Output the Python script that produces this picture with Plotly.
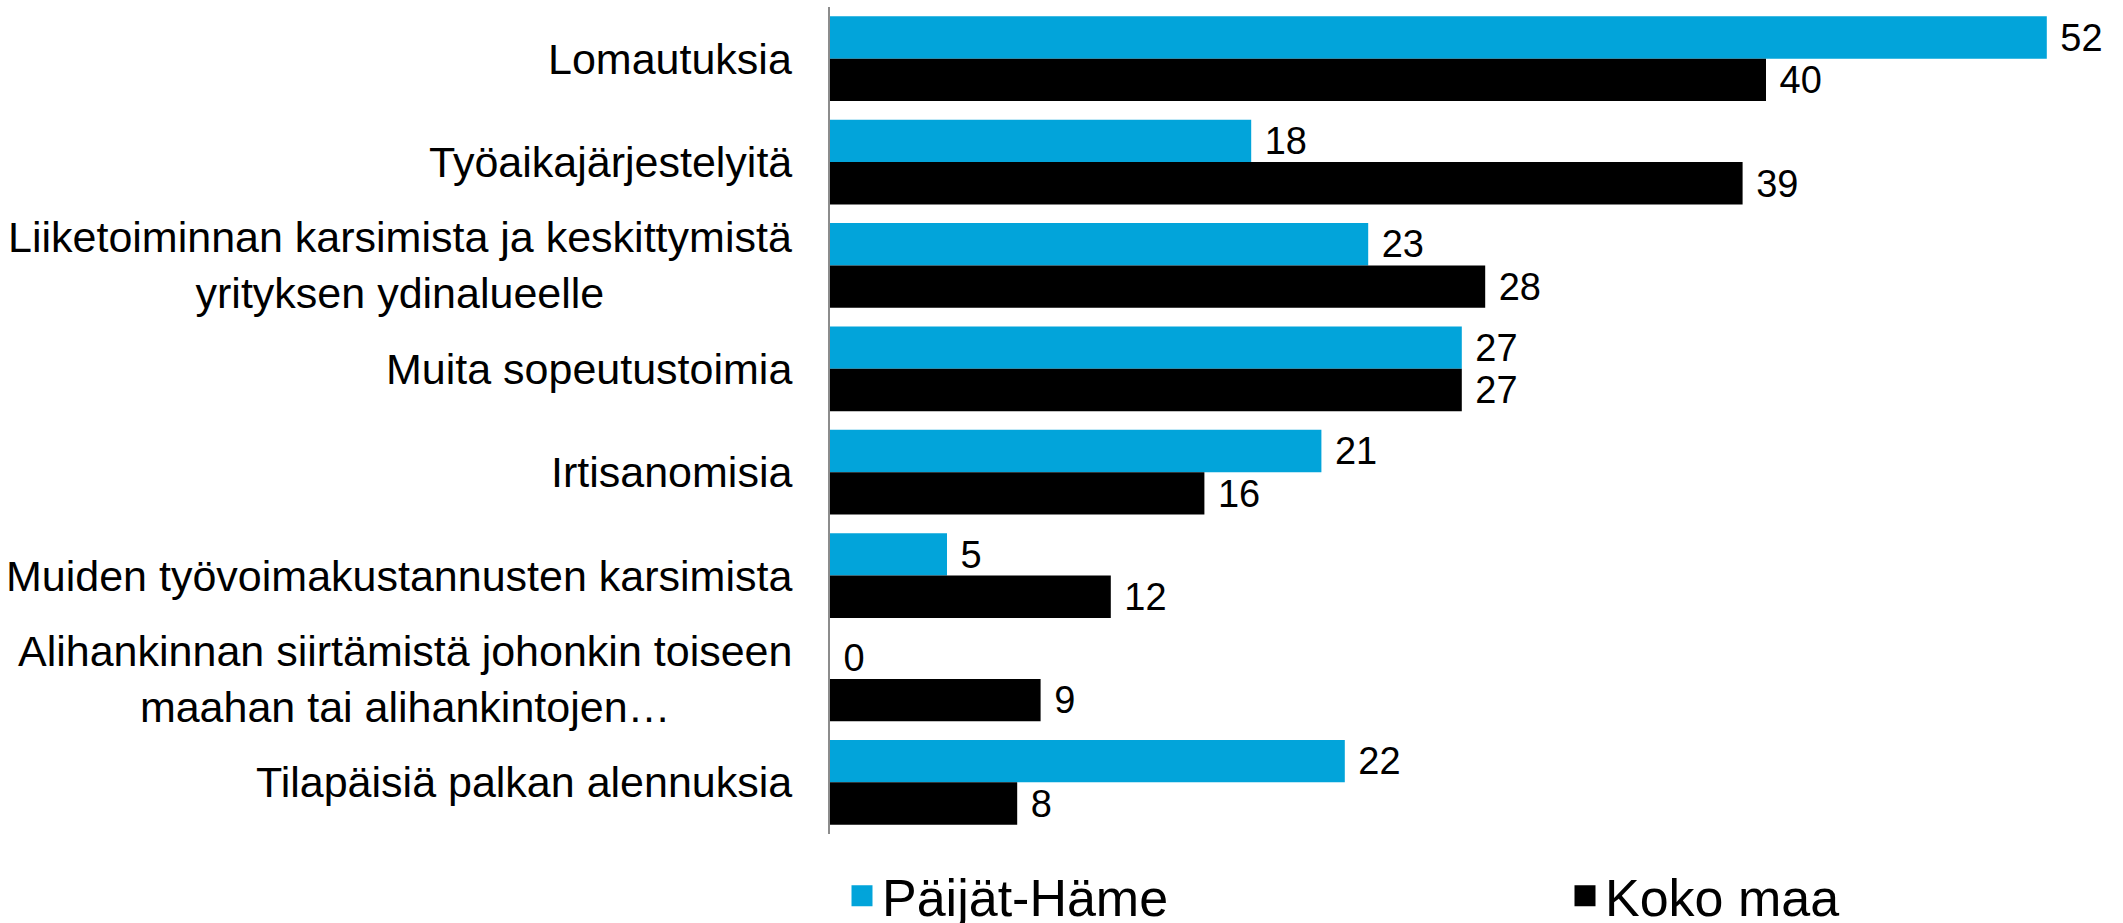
import plotly.graph_objects as go

categories = [
    "Lomautuksia",
    "Työaikajärjestelyitä",
    "Liiketoiminnan karsimista ja keskittymistä<br>yrityksen ydinalueelle",
    "Muita sopeutustoimia",
    "Irtisanomisia",
    "Muiden työvoimakustannusten karsimista",
    "Alihankinnan siirtämistä johonkin toiseen<br>maahan tai alihankintojen…",
    "Tilapäisiä palkan alennuksia",
]
paijat_hame = [52, 18, 23, 27, 21, 5, 0, 22]
koko_maa = [40, 39, 28, 27, 16, 12, 9, 8]
series_names = ["Päijät-Häme", "Koko maa"]
colors = ["#02A4DA", "#000000"]
legend_ids = ["legend", "legend2"]

FONT = "Liberation Sans, Arial, sans-serif"

fig = go.Figure()
for name, vals, col, lg in zip(series_names, [paijat_hame, koko_maa], colors, legend_ids):
    fig.add_trace(go.Bar(
        y=categories, x=vals, orientation="h", name=name,
        marker=dict(color=col, line=dict(width=0)),
        text=[f" {v}" for v in vals], textposition="outside",
        textfont=dict(size=43, color="black", family=FONT),
        cliponaxis=False, showlegend=False, hoverinfo="skip",
    ))
    # legend proxies
    fig.add_trace(go.Scatter(
        x=[None], y=[None], mode="markers", name=name,
        marker=dict(symbol="square", size=20, color=col,
                    line=dict(color=col, width=5)),
        showlegend=True, legend=lg,
    ))

for cat in categories:
    fig.add_annotation(
        x=0, xref="paper", y=cat, yref="y", text=cat, showarrow=False,
        xanchor="right", align="center", xshift=-36,
        font=dict(size=43, color="black", family=FONT),
    )

legend_common = dict(
    orientation="h", xanchor="left",
    yref="container", y=27 / 923, yanchor="middle",
    font=dict(size=52, family=FONT, color="black"),
    itemclick=False, bgcolor="rgba(0,0,0,0)", xref="container",
)

fig.update_layout(
    width=2123, height=923,
    margin=dict(l=830, r=6, t=7, b=89, autoexpand=False),
    paper_bgcolor="white", plot_bgcolor="white",
    barmode="group", bargap=0.18, bargroupgap=0,
    font=dict(family=FONT, color="black"),
    xaxis=dict(range=[0, 55], visible=False),
    yaxis=dict(
        type="category", categoryorder="array", categoryarray=categories,
        autorange="reversed", showticklabels=False, showgrid=False,
        showline=True, linecolor="#8C8C8C", linewidth=2, ticks="",
        zeroline=False,
    ),
    legend=dict(x=842 / 2123, **legend_common),
    legend2=dict(x=1565 / 2123, **legend_common),
)

fig.write_html("out.html", config={"displayModeBar": False},
               post_script="document.body.style.margin='0';")
